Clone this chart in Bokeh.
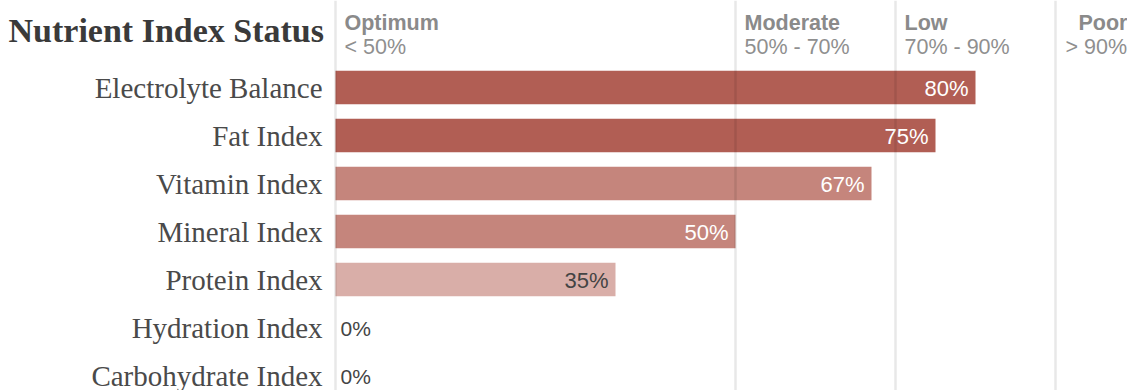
from bokeh.plotting import figure
from bokeh.models import Range1d, Span, ColumnDataSource
from bokeh.core.properties import value
from bokeh.embed import file_html
from bokeh.resources import INLINE

categories = ["Electrolyte Balance", "Fat Index", "Vitamin Index", "Mineral Index",
              "Protein Index", "Hydration Index", "Carbohydrate Index"]
values = [80, 75, 67, 50, 35, 0, 0]
band_names = ["Optimum", "Moderate", "Low", "Poor"]
band_ranges = ["< 50%", "50% - 70%", "70% - 90%", "> 90%"]
band_starts = [0, 50, 70, 90]

W, H = 1127, 390
PX_PER_PCT = 8.0
ZERO_PX = 335
ROW_PX = 48.0
TOP = -(87.0 / ROW_PX)           # data y at top of canvas (first row centre at 87px)
BOTTOM = TOP + H / ROW_PX

def cy(px):
    return TOP + px / ROW_PX

x_start = -ZERO_PX / PX_PER_PCT
x_end = x_start + W / PX_PER_PCT

p = figure(width=W, height=H, output_backend="svg", toolbar_location=None,
           x_range=Range1d(x_start, x_end), y_range=Range1d(BOTTOM, TOP),
           min_border=0, min_border_left=0, min_border_right=0,
           min_border_top=0, min_border_bottom=0)
p.axis.visible = False
p.grid.visible = False
p.outline_line_color = None
p.background_fill_color = "white"
p.border_fill_color = "white"

def bar_color(v):
    if v >= 70:
        return "#b15e54"
    if v >= 50:
        return "#c5857c"
    return "#d9aea8"

ys = list(range(len(categories)))
src = ColumnDataSource(dict(
    y=ys, v=values, cat=categories,
    color=[bar_color(v) for v in values],
))
p.hbar(y="y", left=0, right="v", height=0.7, fill_color="color", line_color=None, source=src)

# category labels
p.text(x=0, y="y", text="cat", source=src, text_align="right", text_baseline="middle",
       x_offset=-13, y_offset=0, text_font=value("Liberation Serif"), text_font_size="29px",
       text_color="#4a4a4a")

# value labels
inside = [i for i, v in enumerate(values) if v > 0]
outside = [i for i, v in enumerate(values) if v <= 0]
src_in = ColumnDataSource(dict(
    y=[ys[i] for i in inside], v=[values[i] for i in inside],
    lbl=[f"{values[i]}%" for i in inside],
    tc=["white" if values[i] >= 50 else "#444444" for i in inside],
))
p.text(x="v", y="y", text="lbl", source=src_in, text_align="right", text_baseline="middle",
       x_offset=-7, y_offset=1, text_font=value("Liberation Sans"), text_font_size="22px",
       text_color="tc")
src_out = ColumnDataSource(dict(
    y=[ys[i] for i in outside], v=[values[i] for i in outside],
    lbl=[f"{values[i]}%" for i in outside],
))
p.text(x="v", y="y", text="lbl", source=src_out, text_align="left", text_baseline="middle",
       x_offset=5, y_offset=1, text_font=value("Liberation Sans"), text_font_size="21px",
       text_color="#444444")

# gridlines for band boundaries
for b in band_starts:
    p.add_layout(Span(location=b, dimension="height", line_color="#000000",
                      line_alpha=0.09, line_width=2.5))

# header band names
hsrc = ColumnDataSource(dict(x=band_starts, name=band_names, rng=band_ranges,
                             off=[9, 9, 9, 23], off2=[9, 9, 9, 10]))
p.text(x="x", y=cy(22), text="name", source=hsrc, x_offset="off", text_align="left",
       text_baseline="middle", text_font=value("Liberation Sans"), text_font_size="21.5px",
       text_font_style="bold", text_color="#8a8a8a")
p.text(x="x", y=cy(46), text="rng", source=hsrc, x_offset="off2", text_align="left",
       text_baseline="middle", text_font=value("Liberation Sans"), text_font_size="21.5px",
       text_color="#8f8f8f")

# title
p.text(x=[x_start], y=[cy(30)], text=["Nutrient Index Status"], text_align="left",
       text_baseline="middle", x_offset=8, text_font=value("Liberation Serif"),
       text_font_size="34px", text_font_style="bold", text_color="#3a3a3a")

open("out.html", "w").write(file_html(p, INLINE))
